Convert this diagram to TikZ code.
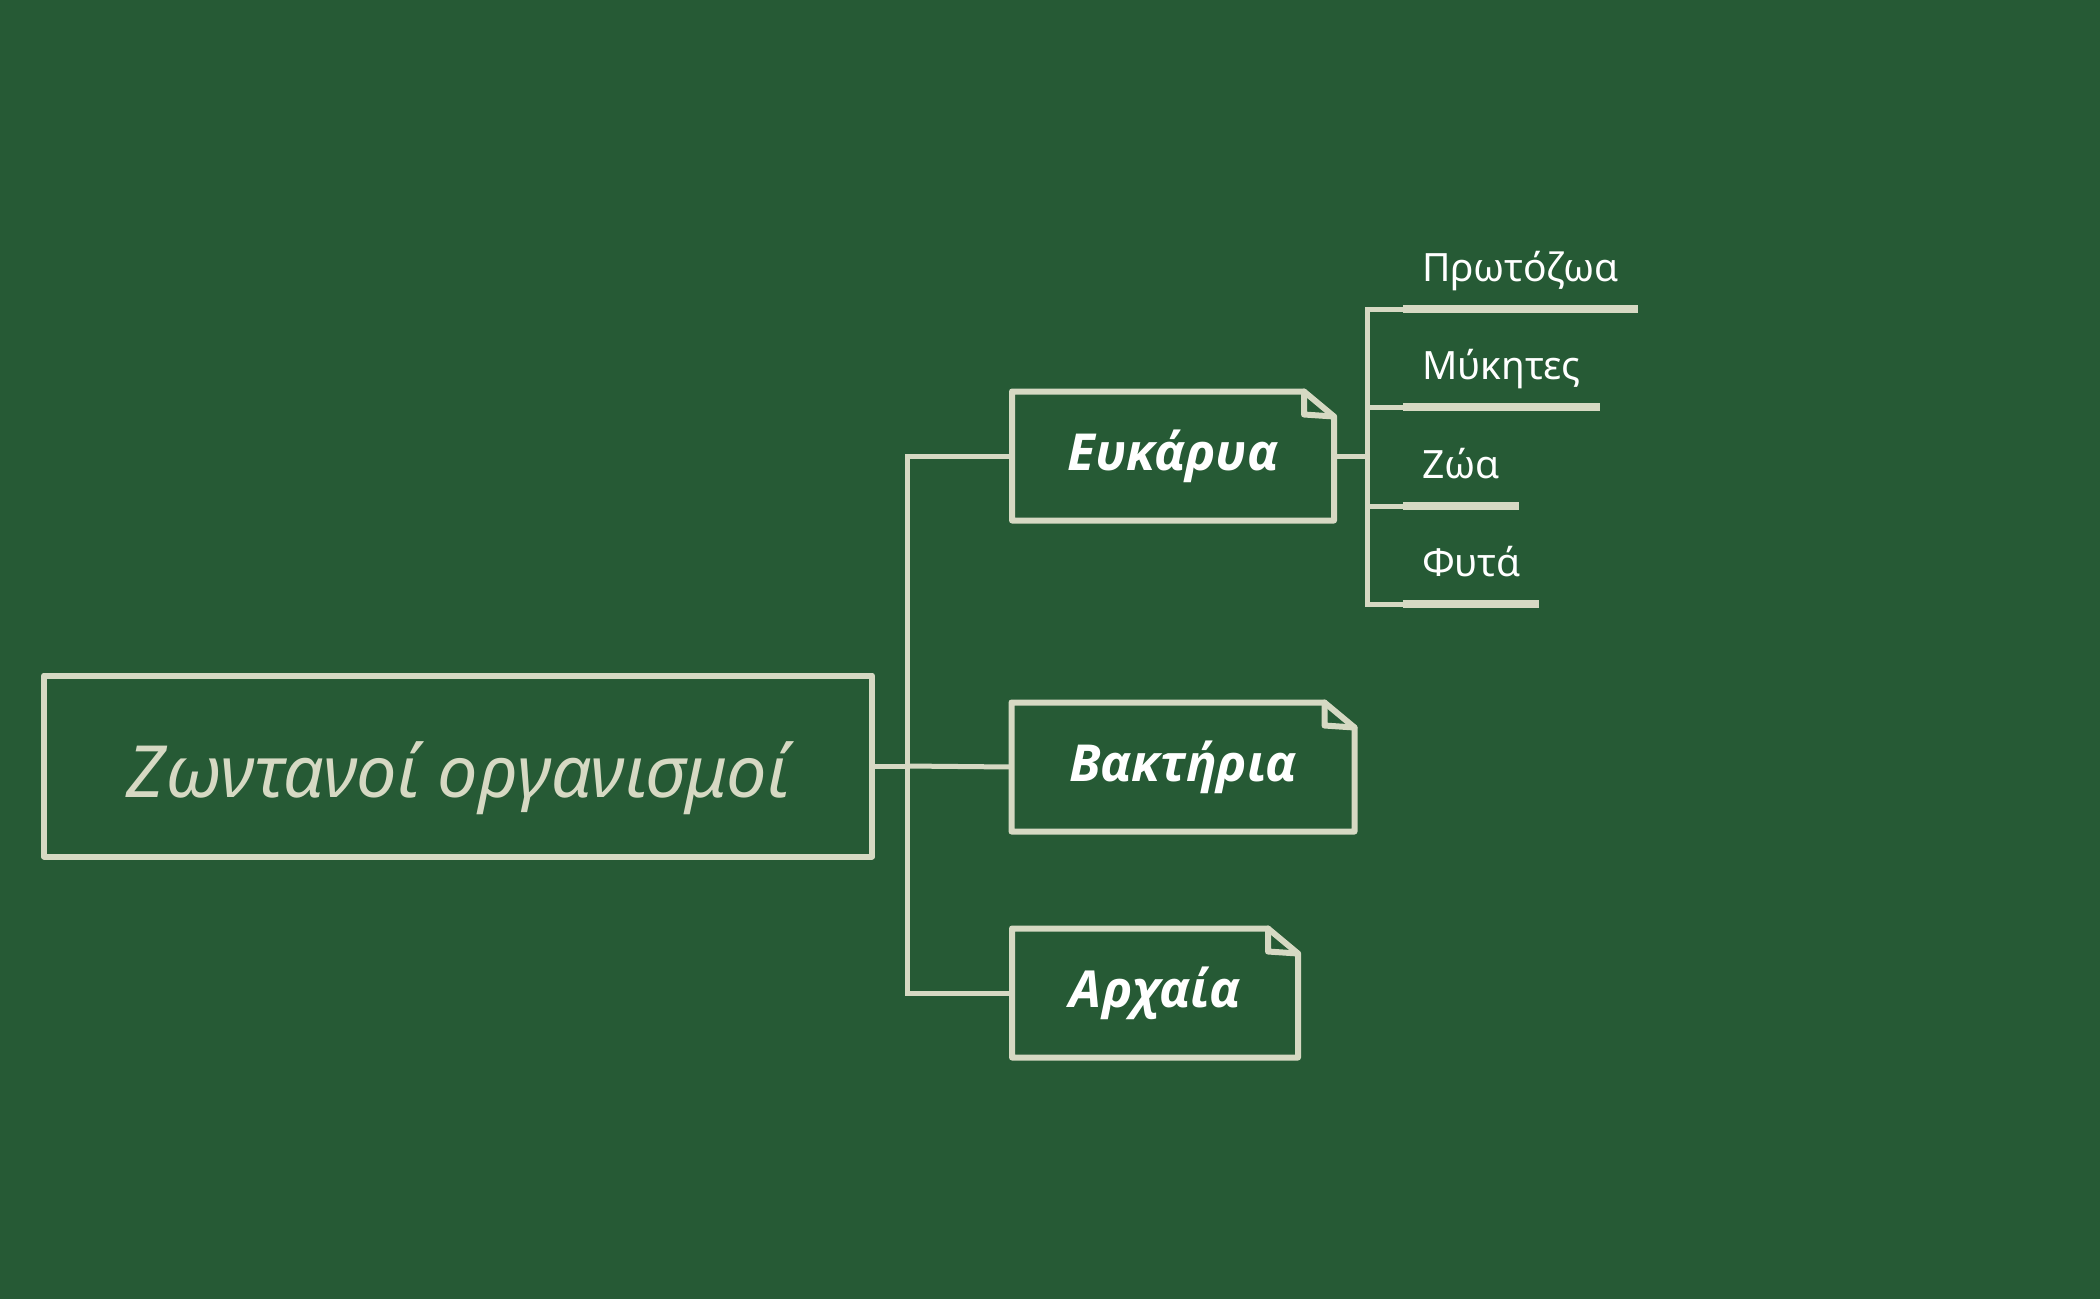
\documentclass[tikz,border=0pt]{standalone}
\usepackage{fontspec}
\setmainfont{Noto Sans}
\newfontfamily\notefont{Open Sans}
\usetikzlibrary{calc}
\definecolor{board}{HTML}{265A35}
\definecolor{chalk}{HTML}{D6D9C3}
\tikzset{frame/.style = {draw=chalk, line width=6pt, line join=round, line cap=round}}
\tikzset{link/.style = {draw=chalk, line width=5pt, line cap=round}}
\tikzset{uline/.style = {draw=chalk, line width=8pt}}
\tikzset{topic/.style = {minimum height=129pt, outer sep=0pt, text=white, font=\notefont\fontsize{51}{56}\selectfont\bfseries\itshape}}
\tikzset{leaf/.style = {anchor=south west, outer sep=0pt, text=white, inner xsep=19pt, inner ysep=28pt, text depth=0pt, font=\fontsize{39}{44}\selectfont}}
% outline of a note with a folded corner
\newcommand{\foldnote}[1]{%
  \draw[frame] (#1.north west) -- ([xshift=-30pt]#1.north east) -- ([yshift=-25pt]#1.north east)
    -- (#1.south east) -- (#1.south west) -- cycle;
  \draw[frame] ([xshift=-30pt]#1.north east) -- ([xshift=-30pt,yshift=-23pt]#1.north east)
    -- ([yshift=-25pt]#1.north east);
}

\begin{document}
\begin{tikzpicture}[x=1pt, y=-1pt]
            \fill[board] (0,0) rectangle (2100,1299);

            % Root
            \node[frame, outer sep=0pt, minimum width=828pt, minimum height=181pt, text=chalk,
              text height=62pt, text depth=0pt,
              font=\fontsize{72}{80}\selectfont\itshape] (root) at (458,766) {Ζωντανοί οργανισμοί};

            % Domains
            \node[topic, minimum width=322pt] (eukarya) at (1173,456) {Ευκάρυα};
            \node[topic, minimum width=343pt] (bakteria) at (1183,767) {Βακτήρια};
            \node[topic, minimum width=286pt] (archaia) at (1155,993) {Αρχαία};
            \foldnote{eukarya}
            \foldnote{bakteria}
            \foldnote{archaia}

            % Kingdoms
            \node[leaf] (protozoa) at (1403,309) {Πρωτόζωα};
            \node[leaf] (mykites) at (1403,407) {Μύκητες};
            \node[leaf] (zoa) at (1403,506) {Ζώα};
            \node[leaf] (fyta) at (1403,604) {Φυτά};

            % Connectors
            \coordinate (rj) at ($(root.east)+(35,0)$);
            \draw[link] (root.east) -- (rj);
            \draw[link] (eukarya.west) -| (rj) |- (archaia.west);
            \draw[link] (rj) -- (bakteria.west);

            \coordinate (ej) at ($(eukarya.east)+(33,0)$);
            \draw[link] (eukarya.east) -- (ej);
            \draw[link] (protozoa.south west) -| (ej) |- (fyta.south west);
            \draw[link] (mykites.south west) -| (ej);
            \draw[link] (zoa.south west) -| (ej);

            % Underlines
            \draw[uline] (protozoa.south west) -- (protozoa.south east);
            \draw[uline] (mykites.south west) -- (mykites.south east);
            \draw[uline] (zoa.south west) -- (zoa.south east);
            \draw[uline] (fyta.south west) -- (fyta.south east);
        \end{tikzpicture}
\end{document}
